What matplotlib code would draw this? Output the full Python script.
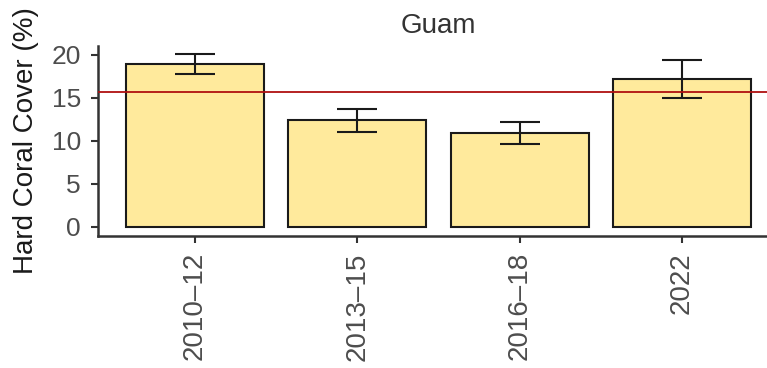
import numpy as np
import matplotlib
matplotlib.use("Agg")
import matplotlib.pyplot as plt

plt.rcParams['font.family'] = ['Liberation Sans', 'DejaVu Sans']

# data
periods = ['2010\u201312', '2013\u201315', '2016\u201318', '2022']
cover = [18.95, 12.4, 10.9, 17.2]
se = [1.13, 1.32, 1.25, 2.16]
baseline = 15.67  # red reference line

fig = plt.figure(figsize=(7.67, 3.68), dpi=100)
ax = fig.add_axes([97.5 / 767, 1 - 235.5 / 368, 682 / 767, (235.5 - 45.7) / 368])

x = np.arange(1, len(periods) + 1)
ax.bar(x, cover, width=0.85, color='#FFEA9C', edgecolor='#1a1a1a', linewidth=1.5, zorder=2)
ax.errorbar(x, cover, yerr=se, fmt='none', ecolor='#1a1a1a', elinewidth=1.5,
            capsize=14.4, capthick=1.5, zorder=3)
ax.axhline(baseline, color='#B01010', linewidth=1.3, zorder=4)

ax.set_xlim(0.4, 4.6)
ax.set_ylim(-1.0, 21.07)
ax.set_xticks(x)
ax.set_xticklabels(periods, rotation=90, fontsize=20, color='#4D4D4D')
ax.set_yticks([0, 5, 10, 15, 20])
ax.tick_params(axis='y', labelsize=19, labelcolor='#4D4D4D', length=5, width=1.5,
               color='#333333', pad=7)
ax.tick_params(axis='x', length=5, width=1.5, color='#333333', pad=7)

for s in ['top', 'right']:
    ax.spines[s].set_visible(False)
for s in ['left', 'bottom']:
    ax.spines[s].set_linewidth(1.8)
    ax.spines[s].set_color('#333333')

ax.set_ylabel('Hard Coral Cover (%)', fontsize=20, color='#1a1a1a', labelpad=9)
ax.set_title('Guam', fontsize=20, color='#333333', pad=9)

fig.savefig('out.png', dpi=100)
